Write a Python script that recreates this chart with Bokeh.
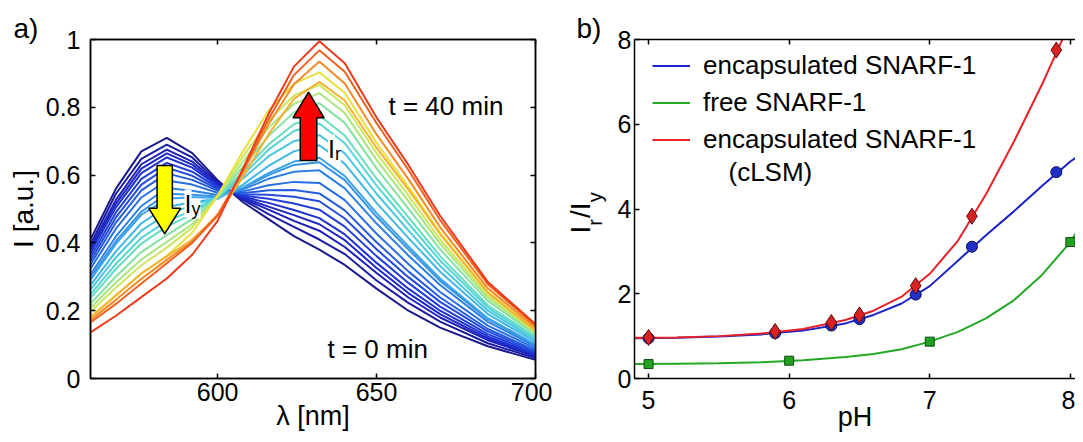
import math
from bokeh.plotting import figure
from bokeh.models import Range1d, LinearAxis, Label, Legend, LegendItem, FixedTicker, Title
from bokeh.layouts import row
from bokeh.embed import file_html
from bokeh.resources import INLINE

FONT = "Liberation Sans"
NB = "\u00a0"

# ---------------- panel a) : emission spectra, t = 0 ... 40 min ----------------
wavelength_nm = [560, 568, 576, 584, 592, 600, 608, 616, 624, 632, 640, 650, 660, 670, 685, 700]

spec_00 = [0.410, 0.560, 0.670, 0.710, 0.665, 0.585, 0.520, 0.470, 0.420, 0.380, 0.335, 0.265, 0.200, 0.150, 0.095, 0.055]
spec_01 = [0.395, 0.545, 0.648, 0.690, 0.652, 0.580, 0.527, 0.485, 0.447, 0.410, 0.367, 0.289, 0.223, 0.168, 0.104, 0.060]
spec_02 = [0.386, 0.527, 0.632, 0.675, 0.640, 0.576, 0.530, 0.498, 0.465, 0.436, 0.388, 0.311, 0.239, 0.180, 0.113, 0.065]
spec_03 = [0.378, 0.516, 0.619, 0.664, 0.631, 0.571, 0.533, 0.507, 0.482, 0.455, 0.408, 0.326, 0.252, 0.190, 0.118, 0.068]
spec_04 = [0.370, 0.505, 0.606, 0.652, 0.622, 0.568, 0.536, 0.518, 0.497, 0.473, 0.425, 0.341, 0.265, 0.200, 0.124, 0.071]
spec_05 = [0.359, 0.490, 0.589, 0.636, 0.610, 0.563, 0.540, 0.530, 0.516, 0.498, 0.448, 0.361, 0.282, 0.212, 0.131, 0.075]
spec_06 = [0.348, 0.475, 0.572, 0.622, 0.598, 0.559, 0.543, 0.542, 0.536, 0.523, 0.472, 0.381, 0.299, 0.226, 0.139, 0.079]
spec_07 = [0.337, 0.460, 0.555, 0.605, 0.586, 0.554, 0.547, 0.555, 0.556, 0.546, 0.496, 0.402, 0.316, 0.239, 0.146, 0.083]
spec_08 = [0.324, 0.442, 0.534, 0.584, 0.572, 0.548, 0.552, 0.570, 0.580, 0.577, 0.526, 0.427, 0.338, 0.255, 0.156, 0.089]
spec_09 = [0.307, 0.419, 0.509, 0.562, 0.554, 0.541, 0.558, 0.589, 0.610, 0.614, 0.561, 0.457, 0.363, 0.276, 0.167, 0.095]
spec_10 = [0.297, 0.405, 0.492, 0.545, 0.542, 0.537, 0.562, 0.600, 0.630, 0.638, 0.585, 0.477, 0.381, 0.288, 0.175, 0.099]
spec_11 = [0.291, 0.397, 0.483, 0.530, 0.535, 0.534, 0.564, 0.606, 0.640, 0.651, 0.597, 0.488, 0.390, 0.295, 0.178, 0.101]
spec_12 = [0.275, 0.375, 0.458, 0.506, 0.520, 0.530, 0.572, 0.627, 0.670, 0.688, 0.633, 0.518, 0.415, 0.315, 0.190, 0.108]
spec_13 = [0.262, 0.357, 0.436, 0.485, 0.510, 0.535, 0.590, 0.655, 0.700, 0.718, 0.664, 0.545, 0.437, 0.332, 0.200, 0.113]
spec_14 = [0.248, 0.338, 0.415, 0.464, 0.495, 0.535, 0.600, 0.675, 0.730, 0.752, 0.694, 0.569, 0.458, 0.348, 0.209, 0.118]
spec_15 = [0.237, 0.323, 0.398, 0.448, 0.485, 0.535, 0.610, 0.690, 0.750, 0.776, 0.717, 0.590, 0.476, 0.361, 0.216, 0.122]
spec_16 = [0.221, 0.301, 0.373, 0.423, 0.470, 0.535, 0.625, 0.715, 0.785, 0.812, 0.754, 0.620, 0.501, 0.381, 0.229, 0.129]
spec_17 = [0.208, 0.283, 0.351, 0.403, 0.455, 0.535, 0.640, 0.740, 0.810, 0.842, 0.783, 0.645, 0.523, 0.398, 0.238, 0.134]
spec_18 = [0.197, 0.268, 0.334, 0.386, 0.445, 0.540, 0.655, 0.760, 0.835, 0.866, 0.806, 0.665, 0.540, 0.410, 0.245, 0.138]
spec_19 = [0.181, 0.246, 0.309, 0.362, 0.430, 0.540, 0.670, 0.790, 0.870, 0.903, 0.843, 0.695, 0.566, 0.430, 0.256, 0.144]
spec_20 = [0.180, 0.245, 0.310, 0.360, 0.410, 0.480, 0.595, 0.720, 0.825, 0.875, 0.820, 0.680, 0.557, 0.426, 0.253, 0.142]
spec_21 = [0.172, 0.232, 0.294, 0.350, 0.405, 0.484, 0.610, 0.750, 0.868, 0.935, 0.870, 0.720, 0.588, 0.446, 0.266, 0.150]
spec_22 = [0.165, 0.220, 0.280, 0.340, 0.400, 0.480, 0.615, 0.765, 0.895, 0.968, 0.905, 0.753, 0.615, 0.467, 0.278, 0.156]
spec_23 = [0.136, 0.185, 0.240, 0.295, 0.365, 0.465, 0.620, 0.780, 0.920, 0.995, 0.930, 0.770, 0.630, 0.480, 0.285, 0.160]

spectra = [spec_00, spec_01, spec_02, spec_03, spec_04, spec_05, spec_06, spec_07,
           spec_08, spec_09, spec_10, spec_11, spec_12, spec_13, spec_14, spec_15,
           spec_16, spec_17, spec_18, spec_19, spec_20, spec_21, spec_22, spec_23]

spectrum_colors = ["#1a1a8c", "#1b1ca4", "#1c20b8", "#1e28c6", "#1f32d0", "#213ed6",
                   "#234cdc", "#265ce0", "#296ee4", "#2e80e6", "#3492e8", "#3ba4e8",
                   "#42b6e6", "#4ac6e2", "#54d4d8", "#66dcc0", "#84e2a0", "#a8e680",
                   "#cce65e", "#e8e03e", "#f4b232", "#f38a28", "#f0601f", "#ee3a1a"]

x_ticks_a = [600, 650, 700]
y_ticks_a = [0, 0.2, 0.4, 0.6, 0.8, 1]
y_tick_labels_a = ["0", "0.2", "0.4", "0.6", "0.8", "1"]

# ---------------- panel b) : ratio vs pH ----------------
ph_encaps = [5.0, 5.9, 6.3, 6.5, 6.9, 7.3, 7.9]
ratio_encaps = [0.95, 1.07, 1.25, 1.40, 1.98, 3.11, 4.87]
ph_cslm = [5.0, 5.9, 6.3, 6.5, 6.9, 7.3, 7.9]
ratio_cslm = [0.97, 1.11, 1.32, 1.50, 2.19, 3.83, 7.75]
ph_free = [5.0, 6.0, 7.0, 8.0]
ratio_free = [0.34, 0.42, 0.87, 3.22]

fit_ph_encaps = [4.9, 5.2, 5.5, 5.8, 6.1, 6.4, 6.6, 6.8, 7.0, 7.2, 7.4, 7.6, 7.8, 8.0, 8.1]
fit_encaps = [0.95, 0.96, 0.99, 1.04, 1.13, 1.30, 1.50, 1.77, 2.18, 2.78, 3.38, 3.95, 4.55, 5.12, 5.35]
fit_ph_cslm = [4.9, 5.2, 5.5, 5.8, 6.1, 6.4, 6.6, 6.8, 7.0, 7.2, 7.4, 7.6, 7.8, 7.95]
fit_cslm = [0.96, 0.97, 1.00, 1.06, 1.17, 1.38, 1.60, 1.93, 2.47, 3.25, 4.35, 5.60, 6.95, 8.05]
fit_ph_free = [4.9, 5.2, 5.5, 5.8, 6.1, 6.4, 6.6, 6.8, 7.0, 7.2, 7.4, 7.6, 7.8, 8.0, 8.1]
fit_free = [0.34, 0.35, 0.36, 0.385, 0.43, 0.51, 0.58, 0.69, 0.87, 1.10, 1.42, 1.85, 2.45, 3.22, 3.75]

x_ticks_b = [5, 6, 7, 8]
y_ticks_b = [0, 2, 4, 6, 8]

legend_labels = ["encapsulated SNARF-1", "free SNARF-1", "encapsulated SNARF-1"]

BLUE = "#1c22c8"
GREEN = "#22a824"
RED = "#e82228"

# frame geometry (canvas pixels)
H = 434
TOP, BOTTOM = 39, 378
A_W, A_LEFT, A_RIGHT = 552, 90, 535
B_W, B_LEFT = 523, 82          # second canvas starts at x = 552; frame left at 634
XB0 = 4.9
PX_PH = 140.6
XB1 = XB0 + (B_W - B_LEFT) / PX_PH


def style_axis(ax, show_labels=True):
    ax.major_tick_in = 5
    ax.major_tick_out = 0
    ax.minor_tick_line_color = None
    ax.axis_line_width = 1.5
    ax.axis_line_color = "black"
    ax.major_tick_line_width = 1.5
    ax.major_tick_line_color = "black"
    ax.major_label_text_font = FONT
    ax.axis_label_text_font = FONT
    ax.axis_label_text_font_style = "normal"
    ax.axis_label_text_color = "black"
    ax.axis_label_text_font_size = "27px"
    if show_labels:
        ax.major_label_text_font_size = "25px"
        ax.major_label_text_color = "black"
    else:
        ax.major_label_text_font_size = "1px"
        ax.major_label_text_color = None


def style_title(t, size="26px"):
    t.text_font = FONT
    t.text_font_size = size
    t.text_font_style = "normal"
    t.text_color = "black"


# ================= figure a =================
p1 = figure(width=A_W, height=H, x_range=Range1d(560, 700), y_range=Range1d(0, 1),
            output_backend="svg", toolbar_location=None,
            min_border_left=A_LEFT, min_border_right=A_W - A_RIGHT,
            min_border_top=TOP, min_border_bottom=H - BOTTOM)
p1.grid.visible = False
p1.outline_line_color = "black"
p1.outline_line_width = 1.5
p1.background_fill_color = "white"
p1.border_fill_color = "white"

for spec, col in zip(spectra, spectrum_colors):
    p1.line(wavelength_nm, spec, line_color=col, line_width=2)

p1.xaxis.ticker = FixedTicker(ticks=x_ticks_a)
p1.yaxis.ticker = FixedTicker(ticks=y_ticks_a)
p1.yaxis.major_label_overrides = {t: s for t, s in zip(y_ticks_a, y_tick_labels_a)}
for ax in p1.xaxis + p1.yaxis:
    style_axis(ax)
p1.xaxis.axis_label = "λ [nm]"
p1.xaxis.major_label_standoff = 4
p1.xaxis.axis_label_standoff = -3
p1.yaxis.axis_label = "I [a.u.]"
p1.yaxis.axis_label_text_font_size = "28px"
p1.yaxis.major_label_standoff = 10
p1.yaxis.axis_label_standoff = 4

top1 = LinearAxis(ticker=FixedTicker(ticks=x_ticks_a))
style_axis(top1, False)
p1.add_layout(top1, "above")
right1 = LinearAxis(ticker=FixedTicker(ticks=y_ticks_a))
style_axis(right1, False)
p1.add_layout(right1, "right")

p1.title.text = "a)"
style_title(p1.title, "28px")
p1.title.align = "left"
p1.title.offset = 13 - A_LEFT
p1.title.vertical_align = "bottom"
p1.title.standoff = -8


def block_arrow(cx, y_from, y_head, y_tip, shaft_hw, head_hw, color):
    xs = [cx - shaft_hw, cx + shaft_hw, cx + shaft_hw, cx + head_hw, cx, cx - head_hw, cx - shaft_hw]
    ys = [y_from, y_from, y_head, y_head, y_tip, y_head, y_head]
    p1.patch(xs, ys, fill_color=color, line_color="black", line_width=1.5)


block_arrow(583.35, 0.628, 0.502, 0.427, 2.4, 5.0, "#ffff00")
block_arrow(628.6, 0.643, 0.769, 0.845, 2.6, 4.9, "#ff0000")

PX_NM = (A_RIGHT - A_LEFT) / 140.0
PX_A = float(BOTTOM - TOP)


def sx2nm(sx):
    return 560 + (sx - A_LEFT) / PX_NM


def sy2a(sy):
    return (BOTTOM - sy) / PX_A


def lab1(sx, sy, text, size="26px", baseline="alphabetic", bg=None):
    lab = Label(x=sx2nm(sx), y=sy2a(sy), text=text, text_font=FONT, text_font_size=size,
                text_baseline=baseline, text_align="left", text_color="black")
    if bg:
        lab.background_fill_color = bg
    p1.add_layout(lab)


lab1(184, 203, "I", size="25px", bg="white")
lab1(191, 208, "y", size="18px", bg="white")
lab1(327.5, 148, "I", size="25px", bg="white")
lab1(334.5, 153, "r", size="18px", bg="white")
lab1(388, 105, "t = 40 min")
lab1(327, 348, "t = 0 min")

# ================= figure b =================
p2 = figure(width=B_W, height=H, x_range=Range1d(XB0, XB1), y_range=Range1d(0, 8),
            output_backend="svg", toolbar_location=None,
            min_border_left=B_LEFT, min_border_right=0,
            min_border_top=TOP, min_border_bottom=H - BOTTOM)
p2.grid.visible = False
p2.outline_line_color = None
p2.background_fill_color = "white"
p2.border_fill_color = "white"

l_enc = p2.line(fit_ph_encaps, fit_encaps, line_color=BLUE, line_width=2)
l_free = p2.line(fit_ph_free, fit_free, line_color=GREEN, line_width=2)
l_cslm = p2.line(fit_ph_cslm, fit_cslm, line_color=RED, line_width=2)

p2.scatter(ph_free, ratio_free, marker="square", size=9, fill_color="#22a022", line_color="#0e4a10", line_width=1)
p2.scatter(ph_encaps, ratio_encaps, marker="circle", size=11, fill_color="#2030c4", line_color="#0c0c5a", line_width=1)
p2.scatter(ph_cslm, ratio_cslm, marker="diamond", size=16, fill_color="#d82222", line_color="#5a0c0c", line_width=1)

p2.xaxis.ticker = FixedTicker(ticks=x_ticks_b)
p2.yaxis.ticker = FixedTicker(ticks=y_ticks_b)
for ax in p2.xaxis + p2.yaxis:
    style_axis(ax)
p2.xaxis.axis_label = "pH"
p2.xaxis.major_label_standoff = 12
p2.xaxis.axis_label_standoff = -10
p2.yaxis.major_label_standoff = 3

# y label I_r / I_y : subscripts as the axis label, main letters as an outer title
p2.yaxis.axis_label = "r" + NB * 3 + "y"
p2.yaxis.axis_label_text_font_size = "20px"
p2.yaxis.axis_label_standoff = 9
ylab_main = Title(text="I" + NB + "/I", align="left", offset=BOTTOM - 233,
                  vertical_align="bottom", standoff=-30)
style_title(ylab_main, "28px")
p2.add_layout(ylab_main, "left")

top2 = LinearAxis(ticker=FixedTicker(ticks=x_ticks_b))
style_axis(top2, False)
p2.add_layout(top2, "above")

p2.title.text = "b)"
style_title(p2.title, "28px")
p2.title.align = "left"
p2.title.offset = 576 - (552 + B_LEFT)
p2.title.vertical_align = "bottom"
p2.title.standoff = -8

ITEM_H, SPACING = 29, 6
legend_h = 3 * ITEM_H + 2 * SPACING
legend_top = 67 - ITEM_H / 2 + 3
legend = Legend(items=[LegendItem(label=legend_labels[0], renderers=[l_enc]),
                       LegendItem(label=legend_labels[1], renderers=[l_free]),
                       LegendItem(label=legend_labels[2], renderers=[l_cslm])],
                location=(18, BOTTOM - (legend_top + legend_h)), margin=0, padding=0, spacing=SPACING,
                border_line_color=None, background_fill_alpha=0,
                label_text_font=FONT, label_text_font_size="26px", label_text_color="black",
                glyph_width=38, glyph_height=ITEM_H, label_height=ITEM_H, label_standoff=13)
p2.add_layout(legend)

PX_B = (BOTTOM - TOP) / 8.0
B_FRAME_X = 552 + B_LEFT


def sx2ph(sx):
    return XB0 + (sx - B_FRAME_X) / PX_PH


def sy2b(sy):
    return (BOTTOM - sy) / PX_B


p2.add_layout(Label(x=sx2ph(728), y=sy2b(171), text="(cLSM)", text_font=FONT, text_font_size="26px",
                    text_baseline="middle", text_align="left", text_color="black"))

layout = row(p1, p2)
open("out.html", "w").write(file_html(layout, INLINE))
